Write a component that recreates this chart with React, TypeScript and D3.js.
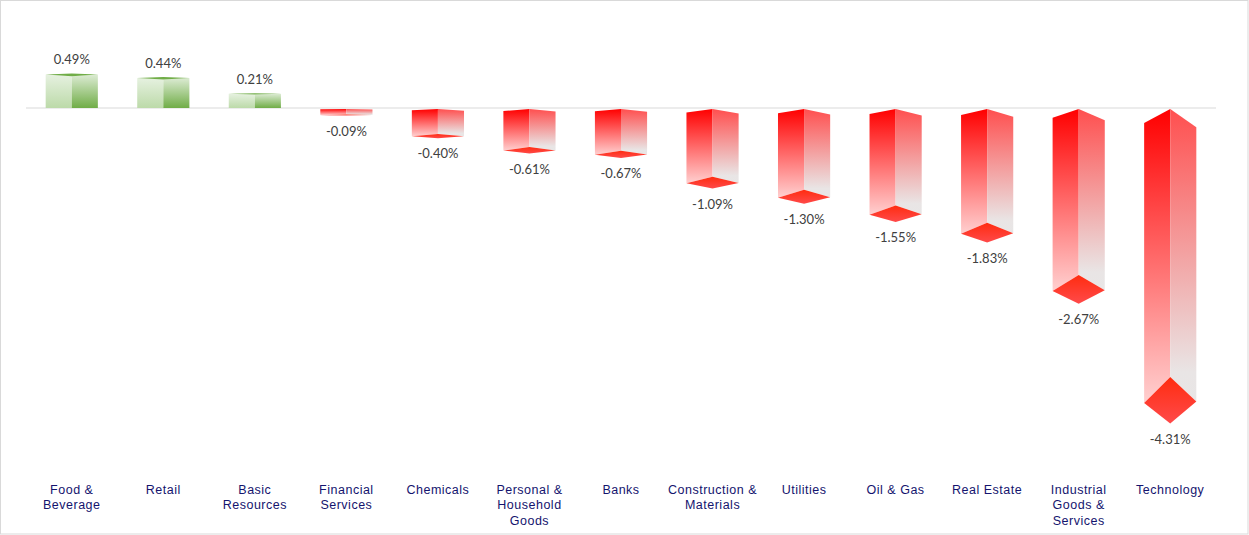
import React from "react";
import * as d3 from "d3";

const categories = ["Food & Beverage","Retail","Basic Resources","Financial Services","Chemicals","Personal & Household Goods","Banks","Construction & Materials","Utilities","Oil & Gas","Real Estate","Industrial Goods & Services","Technology"];
const categoryLines = [["Food &","Beverage"],["Retail"],["Basic","Resources"],["Financial","Services"],["Chemicals"],["Personal &","Household","Goods"],["Banks"],["Construction &","Materials"],["Utilities"],["Oil & Gas"],["Real Estate"],["Industrial","Goods &","Services"],["Technology"]];
const values = [0.49,0.44,0.21,-0.09,-0.40,-0.61,-0.67,-1.09,-1.30,-1.55,-1.83,-2.67,-4.31];

const W = 1249, H = 535;
const x = d3.scaleBand<string>().domain(categories).range([26,1216]).paddingInner(0.43).paddingOuter(0.215);
// y maps "percent" to px for the side corners of a bar; other corners use perspective factors of it
const y = d3.scaleLinear().domain([0,-4.31]).range([109,109+68.2*4.31]);
const yPos = d3.scaleLinear().domain([0,0.49]).range([108,74.6]);
const line = d3.line<[number,number]>();

export default function App(){
  return (
    <svg width={W} height={H} style={{position:"fixed",left:0,top:0,background:"#fff"}}>
      <defs>
        <linearGradient id="nl" x1="0" y1="0" x2="0" y2="1"><stop offset="0" stopColor="#ff0000"/><stop offset="1" stopColor="#ffd0d0"/></linearGradient>
        <linearGradient id="nr" x1="0" y1="0" x2="0" y2="1"><stop offset="0" stopColor="#ff4f4f"/><stop offset="0.9" stopColor="#e9e5e5"/><stop offset="1" stopColor="#e8e6e6"/></linearGradient>
        <linearGradient id="nb" x1="0" y1="0" x2="0" y2="1"><stop offset="0" stopColor="#ff2c10"/><stop offset="1" stopColor="#ff4a4a"/></linearGradient>
        <linearGradient id="pl" x1="0" y1="0" x2="0" y2="1"><stop offset="0" stopColor="#e6f1e0"/><stop offset="1" stopColor="#bcdaa9"/></linearGradient>
        <linearGradient id="pr" x1="0" y1="0" x2="0" y2="1"><stop offset="0" stopColor="#dcebd3"/><stop offset="1" stopColor="#70ad47"/></linearGradient>
      </defs>
      <rect x={0.5} y={0.5} width={W-1.5} height={H-1.5} fill="#fff" stroke="#d9d9d9"/>
      <line x1={26} x2={1216} y1={108} y2={108} stroke="#d9d9d9"/>
      {values.map((v,i)=>{
        const c = categories[i];
        const l = x(c)!, r = l+x.bandwidth(), m = l+x.bandwidth()/2;
        if(v>=0){
          const yb=yPos(0), ys=yPos(v), yPeak=yPos(v*1.03), yNear=yPos(v*0.95);
          return <g key={c}>
            <path d={line([[l,yb],[m,yb],[m,yNear],[l,ys]])!+"Z"} fill="url(#pl)"/>
            <path d={line([[m,yb],[r,yb],[r,ys],[m,yNear]])!+"Z"} fill="url(#pr)"/>
            <path d={line([[l,ys],[m,yPeak],[r,ys],[m,yNear]])!+"Z"} fill="#70ad47"/>
            <text x={m} y={yPeak-14} dy="0.35em" textAnchor="middle" fontFamily="Lato" fontSize={13} fill="#404040">{v.toFixed(2)}%</text>
          </g>;
        }
        const apex=y(0), lt=y(v*0.048), rt=y(v*0.062), lb=y(v), rb=y(v*0.995), sp=y(v*0.912), fr=y(v*1.07);
        return <g key={c}>
          <path d={line([[l,lt],[m,apex],[m,sp],[l,lb]])!+"Z"} fill="url(#nl)"/>
          <path d={line([[m,apex],[r,rt],[r,rb],[m,sp]])!+"Z"} fill="url(#nr)"/>
          <path d={line([[l,lb],[m,sp],[r,rb],[m,fr]])!+"Z"} fill="url(#nb)"/>
          <text x={m} y={fr+15.7} dy="0.35em" textAnchor="middle" fontFamily="Lato" fontSize={13} fill="#404040">{v.toFixed(2)}%</text>
        </g>;
      })}
      {categoryLines.map((ls,i)=>(
        <text key={i} textAnchor="middle" fontFamily="Liberation Sans" fontSize={12.5} letterSpacing={0.5} fill="#14146e">
          {ls.map((t,j)=><tspan key={j} x={x(categories[i])!+x.bandwidth()/2} y={493.5+j*15.7}>{t}</tspan>)}
        </text>
      ))}
    </svg>
  );
}
